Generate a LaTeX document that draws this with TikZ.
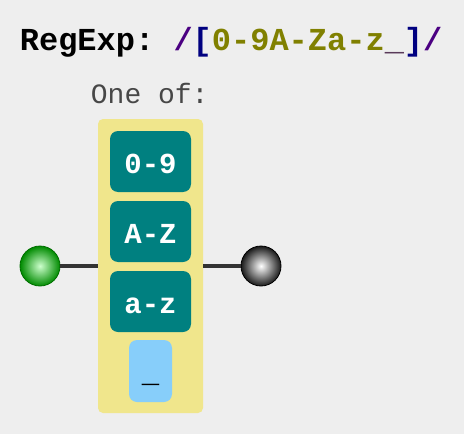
\documentclass[tikz,border=0pt]{standalone}
\usepackage{xcolor}
\usepackage{fontspec}
\usepackage{tikz}
\usetikzlibrary{shapes,positioning}
\setmonofont{Liberation Mono}
\definecolor{bggrey}{HTML}{EEEEEE}
\definecolor{teal}{HTML}{008080}
\definecolor{khaki}{HTML}{F0E68C}
\definecolor{lightskyblue}{HTML}{87CEFA}
\definecolor{indigo}{HTML}{4B0082}
\definecolor{navyblue}{HTML}{000080}
\definecolor{olivetext}{HTML}{808000}
\definecolor{underscore}{HTML}{5A3A5A}
\definecolor{wirecol}{HTML}{333333}
\definecolor{startgreen}{HTML}{008A00}

\begin{document}
\begin{tikzpicture}[x=1pt,y=-1pt,
    charbox/.style={fill=teal, rounded corners=8pt, minimum width=81pt, minimum height=61pt,
        inner sep=0pt, text=white, font=\ttfamily\bfseries\fontsize{29}{29}\selectfont,
        text height=23pt, text depth=0pt},
    litbox/.style={fill=lightskyblue, rounded corners=8pt, minimum width=43pt, minimum height=62pt,
        inner sep=0pt, text=black, font=\ttfamily\fontsize{29}{29}\selectfont,
        text height=23pt, text depth=0pt},
    wire/.style={draw=wirecol, line width=4pt}]
            % background
            \fill[bggrey] (0,0) rectangle (464,434);
            \useasboundingbox (0,0) rectangle (464,434);

            % title
            \node[anchor=base west, inner sep=0pt, font=\ttfamily\bfseries\fontsize{32}{32}\selectfont] (title) at (19.7,50)
                {RegExp: \textcolor{indigo}{/}\textcolor{navyblue}{[}\textcolor{olivetext}{0-9A-Za-z}\textcolor{underscore}{\_}\textcolor{navyblue}{]}\textcolor{indigo}{/}};
            \node[anchor=base west, inner sep=0pt, text=black!72, font=\ttfamily\fontsize{28}{28}\selectfont] (oneof) at (90.7,103) {One of:};

            % one-of group
            \node[fill=khaki, rounded corners=5pt, minimum width=105pt, minimum height=294pt] (group) at (150.5,266) {};
            \node[charbox] (c1) at (150.5,161.5) {0-9};
            \node[charbox] (c2) at (150.5,231.5) {A-Z};
            \node[charbox] (c3) at (150.5,301.5) {a-z};
            \node[litbox] (c4) at (150.5,371) {\_};

            % start and end
            \node[circle, minimum size=40pt, inner sep=0pt, draw=startgreen!80!black, line width=0.8pt,
                inner color=green!20!white, outer color=startgreen] (start) at (40,266) {};
            \node[circle, minimum size=40pt, inner sep=0pt, draw=black, line width=0.8pt,
                inner color=white, outer color=black!90] (end) at (261,266) {};

            % wires
            \draw[wire] (start.east) -- (group.west);
            \draw[wire] (group.east) -- (end.west);
\end{tikzpicture}
\end{document}
